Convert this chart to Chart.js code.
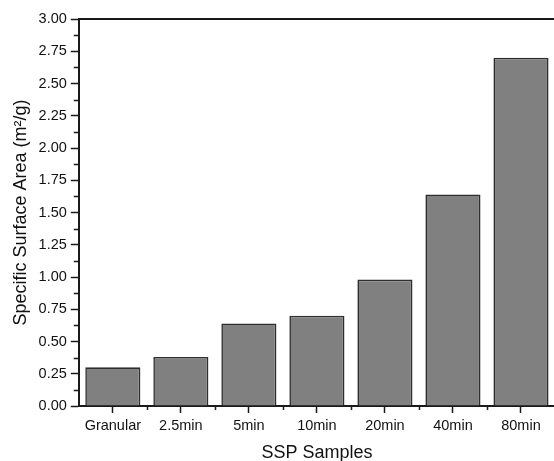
<!DOCTYPE html>
<html>
<head>
<meta charset="utf-8">
<script src="https://cdn.jsdelivr.net/npm/chart.js@4"></script>
<style>
  html, body { margin: 0; padding: 0; background: #fff; overflow: hidden; }
  #wrap { width: 554px; height: 461px; overflow: hidden; }
</style>
</head>
<body>
<div id="wrap">
  <canvas id="chart" width="560" height="464" style="width:560px;height:464px"></canvas>
</div>
<script>
const samples = ["Granular", "2.5min", "5min", "10min", "20min", "40min", "80min"];
const surfaceArea = [0.30, 0.38, 0.64, 0.70, 0.98, 1.64, 2.70];
const yMin = 0;
const yMax = 3;
const yStep = 0.25;

const axisColor = "#1a1a1a";
const font = "'Liberation Sans', Arial, sans-serif";

// minor ticks + top frame line
const minorTicks = {
  id: "minorTicks",
  afterDraw(chart) {
    const ctx = chart.ctx;
    const area = chart.chartArea;
    const x = chart.scales.x;
    const y = chart.scales.y;
    ctx.save();
    ctx.strokeStyle = axisColor;
    ctx.lineWidth = 1.5;
    ctx.beginPath();
    for (let v = yMin + yStep / 2; v < yMax; v += yStep) {
      const py = Math.round(y.getPixelForValue(v)) + 0.5;
      ctx.moveTo(area.left, py);
      ctx.lineTo(area.left - 5, py);
    }
    for (let i = 1; i < samples.length; i++) {
      const px = Math.round((x.getPixelForValue(i - 1) + x.getPixelForValue(i)) / 2) + 0.5;
      ctx.moveTo(px, area.bottom);
      ctx.lineTo(px, area.bottom + 4);
    }
    ctx.stroke();
    ctx.lineWidth = 2;
    ctx.beginPath();
    ctx.moveTo(area.left, area.top);
    ctx.lineTo(area.right, area.top);
    ctx.stroke();
    ctx.restore();
  }
};

new Chart(document.querySelector("#chart"), {
  type: "bar",
  data: {
    labels: samples,
    datasets: [
      {
        data: surfaceArea,
        backgroundColor: "#808080",
        borderColor: "#2e2e2e",
        borderWidth: 1.6,
        barPercentage: 0.81,
        categoryPercentage: 1.0,
      },
    ],
  },
  options: {
    responsive: false,
    animation: false,
    layout: { padding: { top: 19, right: 5, left: 10, bottom: 0 } },
    plugins: {
      legend: { display: false },
      tooltip: { enabled: false },
    },
    scales: {
      x: {
        offset: true,
        grid: {
          offset: false,
          drawOnChartArea: false,
          tickLength: 7,
          tickColor: axisColor,
          tickWidth: 1.5,
        },
        border: { color: axisColor, width: 2 },
        ticks: {
          color: "#111",
          font: { family: font, size: 14.5 },
          padding: 4,
          maxRotation: 0,
        },
        title: {
          display: true,
          text: "SSP Samples",
          color: "#111",
          font: { family: font, size: 18 },
          padding: { top: 4, bottom: 0 },
        },
      },
      y: {
        min: yMin,
        max: yMax,
        grid: {
          drawOnChartArea: false,
          tickLength: 8,
          tickColor: axisColor,
          tickWidth: 1.5,
        },
        border: { color: axisColor, width: 2 },
        ticks: {
          stepSize: yStep,
          color: "#111",
          font: { family: font, size: 14.5 },
          padding: 4,
          callback: (v) => v.toFixed(2),
        },
        title: {
          display: true,
          text: "Specific Surface Area (m²/g)",
          color: "#111",
          font: { family: font, size: 18 },
          padding: { top: 0, bottom: 3 },
        },
      },
    },
  },
  plugins: [minorTicks],
});
</script>
</body>
</html>
